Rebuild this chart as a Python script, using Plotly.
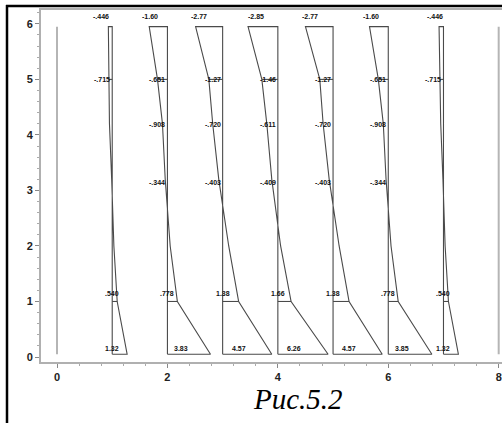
import plotly.graph_objects as go

# ---------------- data ----------------
columns = [1, 2, 3, 4, 5, 6, 7]
zero_columns = [0, 8]
heights = [5.95, 5.0, 4.2, 3.2, 2.0, 1.0, 0.05]

# profile offsets (in axis units) at the heights above, one list per column
profile_c1 = [-0.07, -0.06, -0.05, -0.01, 0.03, 0.09, 0.27]
profile_c2 = [-0.33, -0.18, -0.09, -0.04, 0.05, 0.18, 0.78]
profile_c3 = [-0.49, -0.25, -0.18, -0.07, 0.11, 0.29, 0.89]
profile_c4 = [-0.54, -0.29, -0.20, -0.11, 0.05, 0.24, 0.91]
profile_c5 = [-0.50, -0.24, -0.18, -0.07, 0.11, 0.29, 0.89]
profile_c6 = [-0.34, -0.18, -0.09, -0.04, 0.05, 0.18, 0.79]
profile_c7 = [-0.08, -0.06, -0.05, -0.01, 0.03, 0.09, 0.27]
profiles = [profile_c1, profile_c2, profile_c3, profile_c4, profile_c5, profile_c6, profile_c7]

labels_top = ["-.446", "-1.60", "-2.77", "-2.85", "-2.77", "-1.60", "-.446"]
labels_y5 = ["-.715", "-.651", "-1.27", "-1.46", "-1.27", "-.651", "-.715"]
labels_y42 = [None, "-.908", "-.720", "-.611", "-.720", "-.908", None]
labels_y32 = [None, "-.344", "-.403", "-.409", "-.403", "-.344", None]
labels_y1 = [".540", ".778", "1.38", "1.66", "1.38", ".778", ".540"]
labels_bottom = ["1.32", "3.83", "4.57", "6.26", "4.57", "3.85", "1.32"]

x_ticks = [0, 2, 4, 6, 8]
y_ticks = [0, 1, 2, 3, 4, 5, 6]
caption = "Рис.5.2"

# ---------------- layout constants ----------------
W, H = 502, 423
ML, MR, MT, MB = 41, 0, 10, 61
XR = [-0.29, 8.06]
YR = [-0.09, 6.25]
TOP_DX = [-0.2, -0.31, -0.42, -0.4, -0.42, -0.31, -0.16]
BOT_DX = [0.0, 0.24, 0.3, 0.29, 0.29, 0.24, 0.0]
LINE = "#4a4a4a"
LBL_FONT = dict(family="Liberation Sans, Arial", size=7, color="#111")

fig = go.Figure()

# zero diagrams (plain lines)
for c in zero_columns:
    fig.add_trace(go.Scatter(x=[c, c], y=[heights[-1], heights[0]], mode="lines",
                             line=dict(color="#b5b5b5", width=2), hoverinfo="skip",
                             showlegend=False))

for c, prof in zip(columns, profiles):
    px = [c + v for v in prof]
    # closed outline: baseline up, along profile down, back to baseline
    xs = [c, c] + px + [c]
    ys = [heights[-1], heights[0]] + heights + [heights[-1]]
    fig.add_trace(go.Scatter(x=xs, y=ys, mode="lines",
                             line=dict(color=LINE, width=1.1), hoverinfo="skip",
                             showlegend=False))
    # section lines at y=5 and y=1
    for h in (5.0, 1.0):
        i = heights.index(h)
        fig.add_trace(go.Scatter(x=[c, px[i]], y=[h, h], mode="lines",
                                 line=dict(color=LINE, width=1.1), hoverinfo="skip",
                                 showlegend=False))

ann = []
for k, c in enumerate(columns):
    ann.append(dict(x=c + TOP_DX[k], y=6.14, text=f"<b>{labels_top[k]}</b>",
                    xanchor="center", yanchor="middle"))
    ann.append(dict(x=c, y=5.0, text=f"<b>{labels_y5[k]}</b>", xanchor="right",
                    yanchor="middle"))
    if labels_y42[k]:
        ann.append(dict(x=c, y=4.18, text=f"<b>{labels_y42[k]}</b>", xanchor="right",
                        yanchor="middle"))
    if labels_y32[k]:
        ann.append(dict(x=c, y=3.14, text=f"<b>{labels_y32[k]}</b>", xanchor="right",
                        yanchor="middle"))
    ann.append(dict(x=c, y=1.15, text=f"<b>{labels_y1[k]}</b>", xanchor="center",
                    yanchor="middle"))
    ann.append(dict(x=c + BOT_DX[k], y=0.16, text=f"<b>{labels_bottom[k]}</b>",
                    xanchor="center", yanchor="middle"))
for a in ann:
    a.update(xref="x", yref="y", showarrow=False, font=LBL_FONT)

pw = W - ML - MR
ph = H - MT - MB


def px2paper_x(p):
    return (p - ML) / pw


def px2paper_y(p):
    return 1 - (p - MT) / ph


# caption
ann.append(dict(xref="paper", yref="paper", x=px2paper_x(251), y=px2paper_y(399),
                xanchor="left", yanchor="middle", showarrow=False, text=caption,
                font=dict(family="Liberation Serif, Times New Roman", size=29,
                          color="#000", style="italic")))

shapes = [
    # document table borders
    dict(type="line", xref="paper", yref="paper", x0=px2paper_x(7), x1=px2paper_x(7),
         y0=px2paper_y(5), y1=px2paper_y(430), line=dict(color="#000", width=2.5)),
    dict(type="line", xref="paper", yref="paper", x0=px2paper_x(6), x1=px2paper_x(510),
         y0=px2paper_y(6), y1=px2paper_y(6), line=dict(color="#000", width=2.5)),
]

fig.update_layout(
    width=W, height=H,
    margin=dict(l=ML, r=MR, t=MT, b=MB, pad=0, autoexpand=False),
    paper_bgcolor="white", plot_bgcolor="white",
    annotations=ann, shapes=shapes, showlegend=False,
    xaxis=dict(range=XR, tickvals=x_ticks, showgrid=False, zeroline=False,
               automargin=False,
               showline=True, linecolor="#b0b0b0", linewidth=2, mirror=True,
               ticks="outside", ticklen=4, tickcolor="#888",
               minor=dict(dtick=0.4, tick0=0, ticks="outside", ticklen=2, tickcolor="#aaa"),
               tickfont=dict(family="Liberation Sans, Arial", size=11, color="#222",
                             weight="bold")),
    yaxis=dict(range=YR, tickvals=y_ticks, showgrid=False, zeroline=False,
               automargin=False,
               showline=True, linecolor="#b0b0b0", linewidth=2,
               ticks="outside", ticklen=4, tickcolor="#888",
               minor=dict(dtick=0.2, tick0=0, ticks="outside", ticklen=2, tickcolor="#aaa"),
               tickfont=dict(family="Liberation Sans, Arial", size=11, color="#222",
                             weight="bold")),
)

fig.write_html(
    "out.html",
    config={"displayModeBar": False},
    post_script="document.body.style.margin='0';document.body.style.overflow='hidden';",
)
